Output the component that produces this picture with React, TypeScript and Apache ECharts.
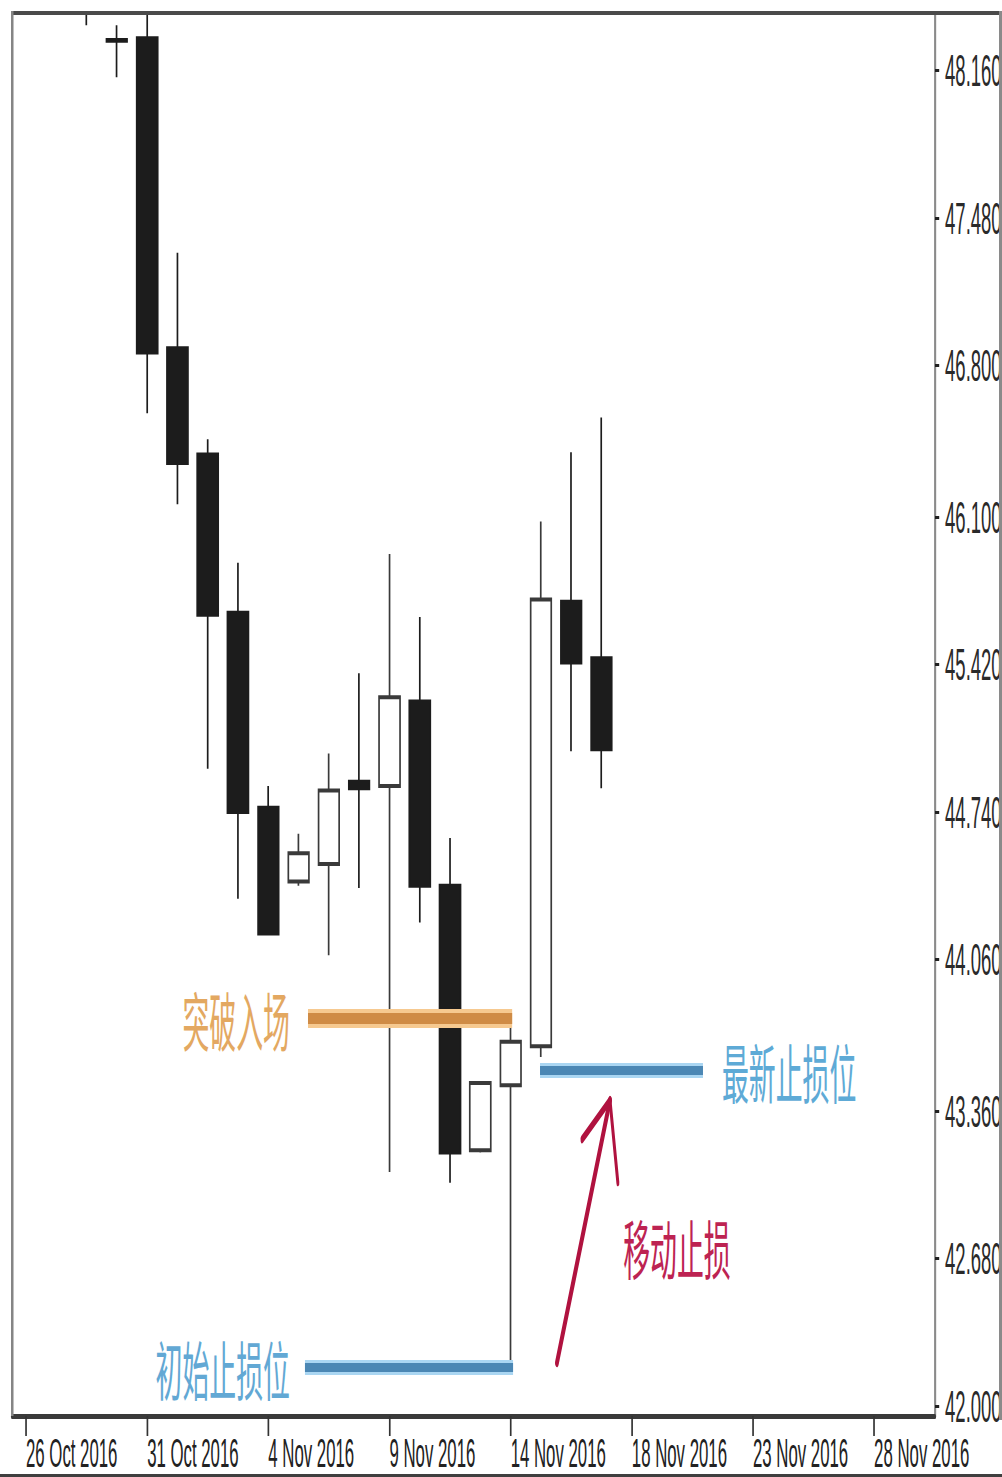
import React, { useEffect, useRef } from 'react';
import * as echarts from 'echarts';

// The reference is a horizontally compressed screenshot; the chart is drawn
// wider and squeezed back with a CSS scaleX so the texts look the same.
const S = 0.42;
const PAGE_W = 1002;
const PAGE_H = 1477;
const W = Math.round(PAGE_W / S);
const TOP = 11;
const H = PAGE_H - TOP;

// ---------- data ----------
const dates = [
  '26 Oct 2016', '27 Oct 2016', '28 Oct 2016', '30 Oct 2016', '31 Oct 2016',
  '1 Nov 2016', '2 Nov 2016', '3 Nov 2016', '4 Nov 2016', '6 Nov 2016',
  '7 Nov 2016', '8 Nov 2016', '9 Nov 2016', '10 Nov 2016', '11 Nov 2016',
  '13 Nov 2016', '14 Nov 2016', '15 Nov 2016', '16 Nov 2016', '17 Nov 2016',
  '18 Nov 2016', '20 Nov 2016', '21 Nov 2016', '22 Nov 2016', '23 Nov 2016',
  '24 Nov 2016', '25 Nov 2016', '27 Nov 2016', '28 Nov 2016', '29 Nov 2016',
  '30 Nov 2016',
];
const dateTickIndex = [0, 4, 8, 12, 16, 20, 24, 28];
const priceTicks = [42.0, 42.68, 43.36, 44.06, 44.74, 45.42, 46.1, 46.8, 47.48, 48.16];

const firstBar = 2; // index in dates of the first candle
const opens = [48.95, 48.302, 48.31, 46.88, 46.39, 45.66, 44.76, 44.42, 44.50, 44.88, 44.86, 45.25, 44.40, 43.18, 43.48, 43.66, 45.71, 45.45];
const closes = [48.60, 48.298, 46.86, 46.35, 45.65, 44.74, 44.18, 44.55, 44.84, 44.85, 45.27, 44.40, 43.17, 43.49, 43.68, 45.72, 45.43, 45.03];
const lows = [48.37, 48.13, 46.58, 46.16, 44.94, 44.34, 44.18, 44.40, 44.08, 44.39, 43.08, 44.23, 43.03, 43.17, 42.20, 43.61, 45.02, 44.85];
const highs = [49.20, 48.37, 48.55, 47.32, 46.46, 45.89, 44.86, 44.64, 45.01, 45.38, 45.93, 45.64, 44.62, 43.49, 43.75, 46.08, 46.40, 46.56];

// annotations (x in bar index, y in price)
const entryLevel = 43.79;
const entrySpan = [9.31, 16.05];
const latestStopLevel = 43.55;
const latestStopSpan = [16.97, 22.35];
const initialStopLevel = 42.18;
const initialStopSpan = [9.21, 16.08];
const arrowTail = [17.53, 42.2];
const arrowTip = [19.28, 43.41];
const arrowBarbLeft = [18.36, 43.23];
const arrowBarbRight = [19.54, 43.03];
const moveStopLabelAt = [21.49, 42.74];

const X_MIN = -0.462;
const X_MAX = 30.01;
const Y_MIN = 41.954;
const Y_MAX = 48.4215;

const LATIN = "'Liberation Sans', Arial, sans-serif";
const CJK = "'Noto Sans CJK SC', 'Noto Sans', sans-serif";

const candleData = opens.map((o, i) => [firstBar + i, o, closes[i], lows[i], highs[i]]);

function hLine(span: number[], y: number, color: string, width: number, label?: any) {
  return [
    { coord: [span[0], y], lineStyle: { color, width, type: 'solid', opacity: 1, cap: 'butt' }, label: label || { show: false } },
    { coord: [span[1], y] },
  ];
}

function seg(a: number[], b: number[], color: string, width: number) {
  return [
    { coord: a, lineStyle: { color, width, type: 'solid', opacity: 1, cap: 'round' }, label: { show: false } },
    { coord: b },
  ];
}

const cjkLabel = (text: string, color: string, position: string, distance: number) => ({
  show: true,
  position,
  formatter: text,
  color,
  fontSize: 64,
  fontFamily: CJK,
  distance,
});

const ORANGE = '#cf8b45';
const ORANGE_HALO = '#f6c990';
const BLUE = '#4b87b4';
const BLUE_HALO = '#aad6f2';
const RED = '#b0123f';

const option: any = {
  animation: false,
  backgroundColor: '#ffffff',
  grid: {
    left: 12 / S,
    right: W - 935 / S,
    top: 14 - TOP,
    bottom: H - (1416 - TOP),
    containLabel: false,
    outerBoundsMode: 'none',
    show: false,
  },
  xAxis: {
    type: 'value',
    min: X_MIN,
    max: X_MAX,
    splitLine: { show: false },
    axisLine: { show: true, onZero: false, lineStyle: { color: '#3a3a3a', width: 5 } },
    axisTick: { show: true, customValues: dateTickIndex, length: 20, lineStyle: { color: '#333', width: 4 } },
    axisLabel: {
      show: true,
      customValues: dateTickIndex,
      formatter: (v: number) => dates[Math.round(v)],
      align: 'left',
      color: '#222',
      fontSize: 40,
      fontFamily: LATIN,
      margin: 17,
    },
  },
  yAxis: {
    type: 'value',
    position: 'right',
    min: Y_MIN,
    max: Y_MAX,
    splitLine: { show: false },
    axisLine: { show: true, onZero: false, lineStyle: { color: '#8a8a8a', width: 5 } },
    axisTick: { show: true, customValues: priceTicks, length: 10, lineStyle: { color: '#222', width: 3 } },
    axisLabel: {
      show: true,
      customValues: priceTicks,
      formatter: (v: number) => v.toFixed(3),
      color: '#2a2a2a',
      fontSize: 44,
      fontFamily: LATIN,
      margin: 24,
    },
  },
  graphic: [
    { type: 'rect', z: 100, shape: { x: 11 / S, y: 0, width: W, height: 4 }, style: { fill: '#4a4a4a' } },
    { type: 'rect', z: 100, shape: { x: 11 / S, y: 0, width: 6, height: 1416 - TOP }, style: { fill: '#858585' } },
    { type: 'rect', z: 100, shape: { x: 999 / S, y: 0, width: 3 / S, height: 1420 - TOP }, style: { fill: '#8a8a8a' } },
    { type: 'rect', z: 100, shape: { x: 0, y: 1474 - TOP, width: W, height: 4 }, style: { fill: '#3f3f3f' } },
  ],
  series: [
    {
      type: 'candlestick',
      data: candleData,
      encode: { x: 0, y: [1, 2, 3, 4] },
      barWidth: 21 / S,
      clip: true,
      itemStyle: {
        color: '#ffffff',
        color0: '#1c1c1c',
        borderColor: '#3a3a3a',
        borderColor0: '#1c1c1c',
        borderWidth: 4,
      },
      markLine: {
        silent: true,
        animation: false,
        symbol: ['none', 'none'],
        label: { show: false },
        emphasis: { disabled: true },
        data: [
          hLine(entrySpan, entryLevel, ORANGE_HALO, 19),
          hLine(entrySpan, entryLevel, ORANGE, 11, cjkLabel('突破入场', '#e3a861', 'start', 18 / S)),
          hLine(latestStopSpan, latestStopLevel, BLUE_HALO, 15),
          hLine(latestStopSpan, latestStopLevel, BLUE, 9, cjkLabel('最新止损位', '#5eaad6', 'end', 19 / S)),
          hLine(initialStopSpan, initialStopLevel, BLUE_HALO, 15),
          hLine(initialStopSpan, initialStopLevel, BLUE, 9, cjkLabel('初始止损位', '#62a8d4', 'start', 15 / S)),
          seg(arrowTail, arrowTip, RED, 9),
          seg(arrowTip, arrowBarbLeft, RED, 8),
          seg(arrowTip, arrowBarbRight, RED, 7),
        ],
      },
      markPoint: {
        silent: true,
        animation: false,
        symbol: 'circle',
        symbolSize: 1,
        itemStyle: { color: 'rgba(0,0,0,0)' },
        data: [
          {
            coord: moveStopLabelAt,
            label: {
              show: true,
              position: 'inside',
              formatter: '移动止损',
              color: '#bd2352',
              fontSize: 64,
              fontFamily: CJK,
            },
          },
        ],
      },
    },
  ],
};

export default function App() {
  const ref = useRef<HTMLDivElement>(null);
  useEffect(() => {
    if (!ref.current) return;
    const chart = echarts.init(ref.current, null, { renderer: 'svg' });
    chart.setOption(option);
    return () => chart.dispose();
  }, []);
  return (
    <div
      style={{
        position: 'absolute',
        left: 0,
        top: 0,
        width: PAGE_W,
        height: PAGE_H,
        overflow: 'hidden',
        background: '#ffffff',
      }}
    >
      <div
        style={{
          position: 'absolute',
          left: 0,
          top: TOP,
          width: W,
          height: H,
          transform: `scaleX(${S})`,
          transformOrigin: '0 0',
        }}
      >
        <div ref={ref} style={{ width: W, height: H }} />
      </div>
    </div>
  );
}
